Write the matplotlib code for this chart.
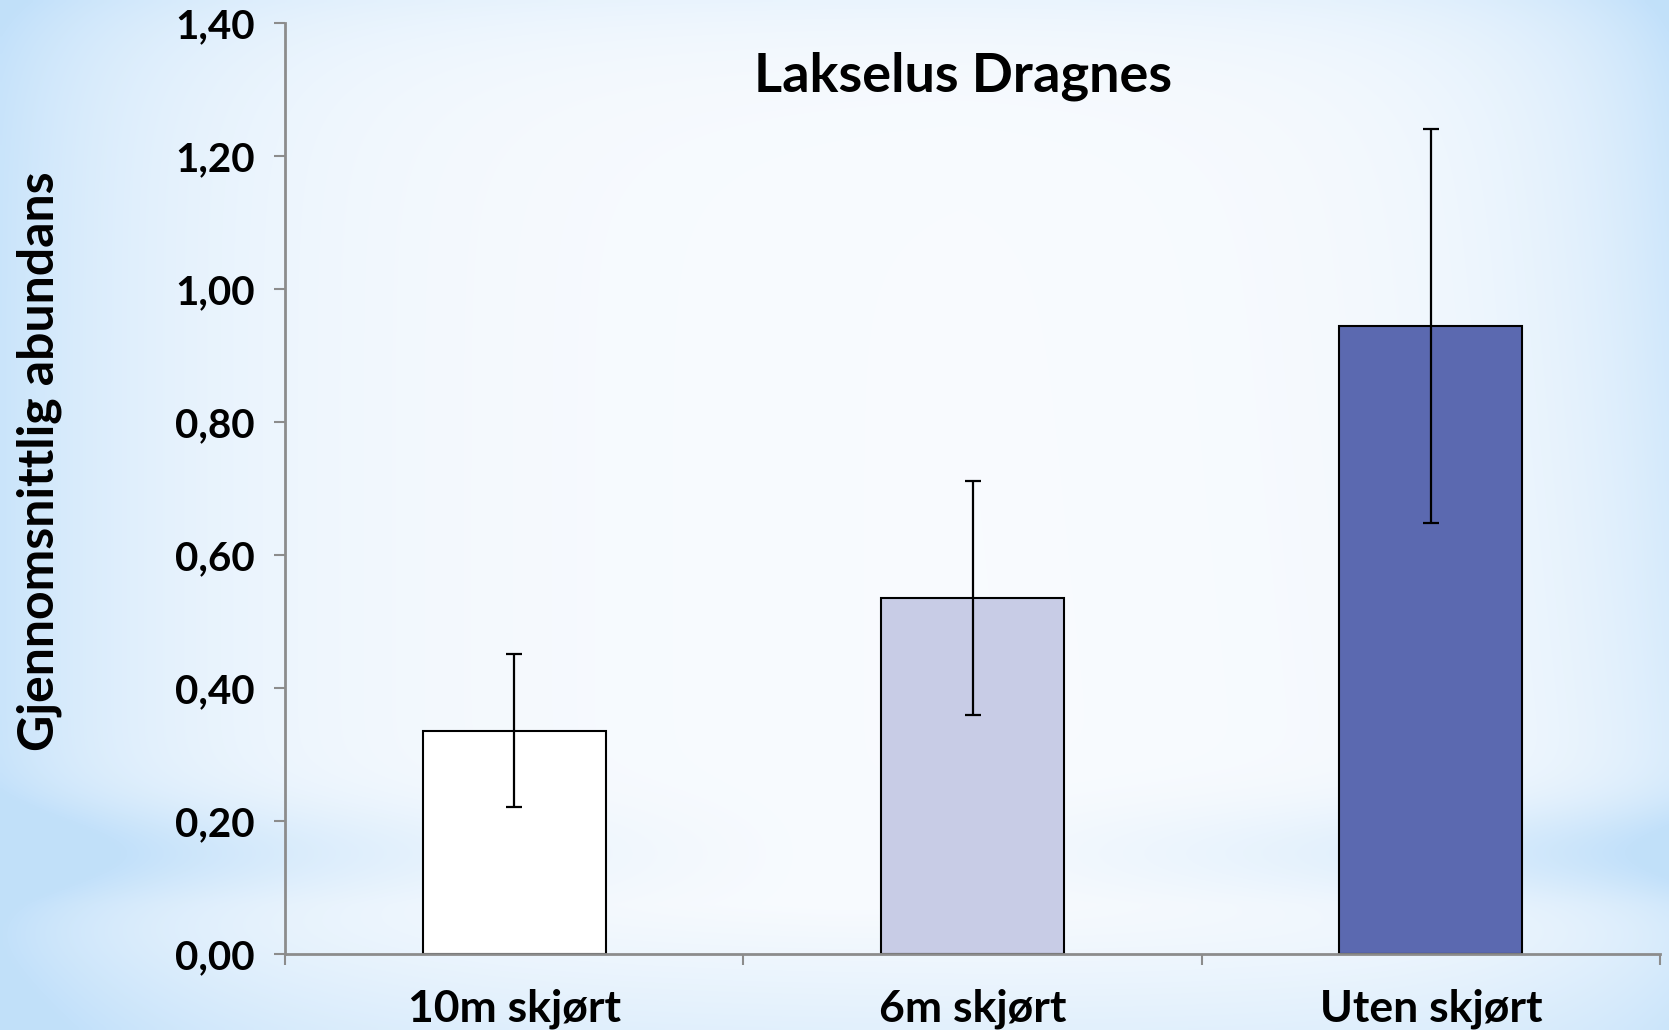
import numpy as np
import matplotlib
matplotlib.use("Agg")
import matplotlib.pyplot as plt
from matplotlib.ticker import FuncFormatter

# data
categories = ["10m skjørt", "6m skjørt", "Uten skjørt"]
means = [0.336, 0.535, 0.945]
errors = [0.115, 0.176, 0.296]
bar_colors = ["#ffffff", "#c8cce6", "#5b69b0"]
yticks = [0.0, 0.2, 0.4, 0.6, 0.8, 1.0, 1.2, 1.4]

plt.rcParams['font.family'] = ['Lato', 'DejaVu Sans']

W, H = 1669, 1030
fig = plt.figure(figsize=(W / 100, H / 100), dpi=100)

# light blue slide background
xx, yy = np.meshgrid(np.linspace(0, 1, 400), np.linspace(0, 1, 250))
blue = np.maximum(np.exp(-xx / 0.12), np.exp(-(1 - xx) / 0.09) * (1 - 0.5 * yy))
band = np.exp(-((yy - 0.83) / 0.05) ** 2) * (np.abs(xx - 0.5) * 1.7) ** 1.3
low = np.clip((yy - 0.88) / 0.12, 0, 1) * 0.4
top = np.exp(-yy / 0.05) * 0.25
blue = np.clip(blue * 0.85 + band * 0.8 + low + top, 0, 1)
white = np.array([0.975, 0.985, 0.997])
sky = np.array([0.76, 0.88, 0.98])
img = white + blue[..., None] * (sky - white)
bg = fig.add_axes([0, 0, 1, 1], zorder=-10)
bg.imshow(img, aspect='auto', extent=[0, 1, 1, 0], interpolation='bilinear')
bg.set_axis_off()

ax = fig.add_axes([0.1708, 0.0738, 0.9946 - 0.1708, 0.9773 - 0.0738])
ax.patch.set_alpha(0)
x = np.arange(len(categories))
ax.bar(x, means, width=0.4, color=bar_colors, edgecolor='black', linewidth=1.5, zorder=2)
ax.errorbar(x, means, yerr=errors, fmt='none', ecolor='black', elinewidth=1.6,
            capsize=6, capthick=1.6, zorder=3)

ax.set_xlim(-0.5, 2.5)
ax.set_ylim(0, 1.4)
ax.set_yticks(yticks)
ax.yaxis.set_major_formatter(FuncFormatter(lambda v, p: f"{v:.2f}".replace('.', ',')))
ax.set_xticks([-0.5, 0.5, 1.5, 2.5])
ax.set_xticklabels([])
ax.set_xticks(x, minor=True)
ax.set_xticklabels(categories, minor=True, fontsize=32, fontweight='bold')
ax.tick_params(axis='x', which='minor', length=0, pad=25)
ax.tick_params(axis='x', which='major', length=8, width=1.5, color='#8c8c8c', direction='out')
ax.tick_params(axis='y', length=8, width=1.5, color='#8c8c8c', direction='out', pad=14,
               labelsize=29)
for lab in ax.get_yticklabels():
    lab.set_fontweight('bold')

for s in ['top', 'right']:
    ax.spines[s].set_visible(False)
for s in ['left', 'bottom']:
    ax.spines[s].set_color('#8c8c8c')
    ax.spines[s].set_linewidth(2)

ax.set_ylabel("Gjennomsnittlig abundans", fontsize=36, fontweight='bold')
ax.yaxis.set_label_coords(-0.162, 0.53)
ax.text(0.98, 1.32, "Lakselus Dragnes", ha='center', va='center', fontsize=39,
        fontweight='bold', transform=ax.transData)

fig.savefig("out.png", dpi=100)
